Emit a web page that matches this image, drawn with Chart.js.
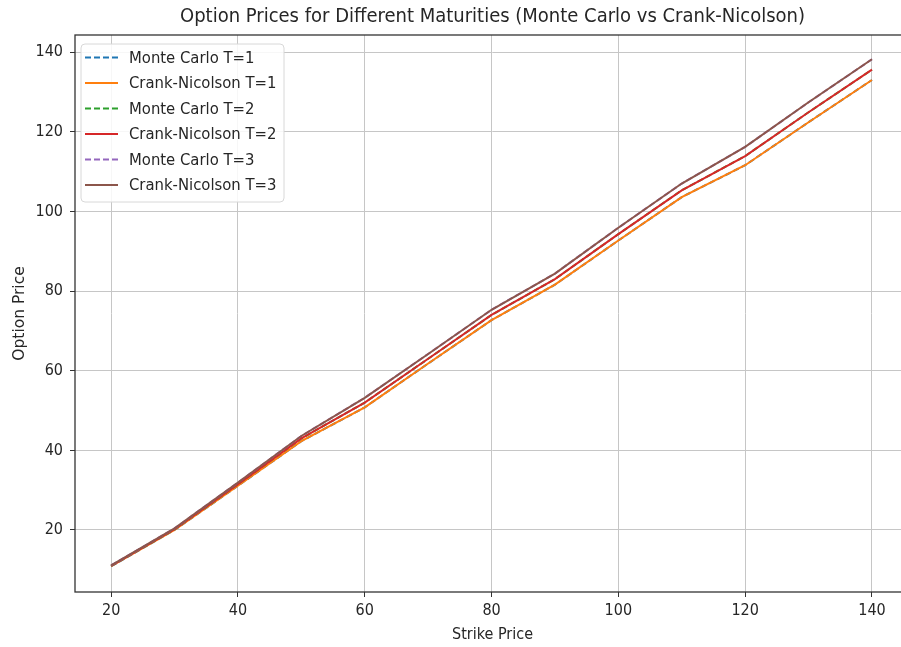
<!DOCTYPE html>
<html>
<head>
<meta charset="utf-8">
<script src="https://cdn.jsdelivr.net/npm/chart.js@4.4.1/dist/chart.umd.min.js"></script>
<style>
  html, body { margin: 0; padding: 0; background: #fff; overflow: hidden; }
  #wrap { width: 901px; height: 647px; overflow: hidden; }
</style>
</head>
<body>
<div id="wrap"><canvas id="optionChart" width="920" height="647"></canvas></div>
<script>
// strike prices on the x axis
const strikes = [20, 30, 40, 50, 60, 70, 80, 90, 100, 110, 120, 130, 140];

// option prices (MC lines sit under the CN lines)
const mcT1 = [10.9, 20.0, 31.1, 42.3, 50.8, 61.8, 72.7, 81.6, 92.7, 103.6, 111.6, 122.4, 133.0];
const cnT1 = [10.9, 20.0, 31.1, 42.3, 50.8, 61.8, 72.7, 81.6, 92.7, 103.6, 111.6, 122.4, 133.0];
const mcT2 = [11.0, 20.2, 31.5, 43.0, 52.0, 63.0, 74.0, 83.0, 94.3, 105.3, 113.9, 124.9, 135.6];
const cnT2 = [11.0, 20.2, 31.5, 43.0, 52.0, 63.0, 74.0, 83.0, 94.3, 105.3, 113.9, 124.9, 135.6];
const mcT3 = [11.1, 20.4, 31.9, 43.6, 53.2, 64.2, 75.3, 84.4, 95.9, 107.0, 116.2, 127.4, 138.2];
const cnT3 = [11.1, 20.4, 31.9, 43.6, 53.2, 64.2, 75.3, 84.4, 95.9, 107.0, 116.2, 127.4, 138.2];

const xTicks = [20, 40, 60, 80, 100, 120, 140];
const yTicks = [20, 40, 60, 80, 100, 120, 140];

const FONT = '"DejaVu Sans Condensed", "DejaVu Sans", sans-serif';
const FONT_V = '"DejaVu Sans", sans-serif';
const TEXT = '#262626';

function pts(values) {
  return strikes.map((k, i) => ({ x: k, y: values[i] }));
}

function series(label, values, color, dashed, idx) {
  return {
    label: label,
    data: pts(values),
    borderColor: color,
    backgroundColor: color,
    borderWidth: 2,
    borderDash: dashed ? [6, 3] : [],
    pointRadius: 0,
    tension: 0,
    fill: false,
    order: 6 - idx  // later series on top, like matplotlib
  };
}

// frame + matplotlib style legend box
const boxLegend = {
  id: 'boxLegend',
  afterDatasetsDraw(chart) {
    const ctx = chart.ctx;
    const a = chart.chartArea;
    ctx.save();
    ctx.strokeStyle = '#333';
    ctx.lineWidth = 1.3;
    ctx.strokeRect(a.left, a.top, a.right - a.left, a.bottom - a.top);

    const x0 = a.left + 6, y0 = a.top + 9, w = 203, h = 158, rowH = 25.5;
    ctx.beginPath();
    ctx.roundRect(x0, y0, w, h, 4);
    ctx.fillStyle = 'rgba(255,255,255,0.85)';
    ctx.fill();
    ctx.strokeStyle = '#d8d8d8';
    ctx.lineWidth = 1;
    ctx.stroke();

    chart.data.datasets.forEach((ds, i) => {
      const cy = y0 + 13.5 + i * rowH;
      ctx.beginPath();
      ctx.setLineDash(ds.borderDash);
      ctx.strokeStyle = ds.borderColor;
      ctx.lineWidth = 2;
      ctx.moveTo(x0 + 4, cy);
      ctx.lineTo(x0 + 37, cy);
      ctx.stroke();
      ctx.setLineDash([]);
      ctx.fillStyle = TEXT;
      ctx.font = '16.5px ' + FONT;
      ctx.textBaseline = 'middle';
      ctx.fillText(ds.label, x0 + 48, cy + 1);
    });
    ctx.restore();
  }
};

const ctx = document.getElementById('optionChart').getContext('2d');
new Chart(ctx, {
  type: 'line',
  data: {
    datasets: [
      series('Monte Carlo T=1', mcT1, '#1f77b4', true, 0),
      series('Crank-Nicolson T=1', cnT1, '#ff7f0e', false, 1),
      series('Monte Carlo T=2', mcT2, '#2ca02c', true, 2),
      series('Crank-Nicolson T=2', cnT2, '#d62728', false, 3),
      series('Monte Carlo T=3', mcT3, '#9467bd', true, 4),
      series('Crank-Nicolson T=3', cnT3, '#8c564b', false, 5)
    ]
  },
  options: {
    responsive: false,
    animation: false,
    devicePixelRatio: 1,
    layout: { padding: { left: 0, right: 10, top: 0, bottom: 0 } },
    plugins: {
      legend: { display: false },
      tooltip: { enabled: false },
      title: {
        display: true,
        fullSize: false,
        text: 'Option Prices for Different Maturities (Monte Carlo vs Crank-Nicolson)',
        color: TEXT,
        font: { family: FONT, size: 20, weight: 'normal' },
        padding: { top: 5, bottom: 6 }
      }
    },
    scales: {
      x: {
        type: 'linear',
        min: 14.3,
        max: 146,
        afterBuildTicks: (scale) => { scale.ticks = xTicks.map(v => ({ value: v })); },
        afterFit: (scale) => { scale.height = 55; },
        grid: { color: '#c6c6c6', lineWidth: 1, tickLength: 5, tickColor: '#333' },
        border: { display: false },
        ticks: { color: TEXT, font: { family: FONT, size: 16 }, padding: 4, maxRotation: 0 },
        title: {
          display: true, text: 'Strike Price', color: TEXT,
          font: { family: FONT, size: 16 }, padding: { top: 0, bottom: 3 }
        }
      },
      y: {
        type: 'linear',
        min: 4.43,
        max: 144.3,
        afterBuildTicks: (scale) => { scale.ticks = yTicks.map(v => ({ value: v })); },
        afterFit: (scale) => { scale.width = 75; },
        grid: { color: '#c6c6c6', lineWidth: 1, tickLength: 5, tickColor: '#333' },
        border: { display: false },
        ticks: { color: TEXT, font: { family: FONT, size: 16 }, padding: 7 },
        title: {
          display: true, text: 'Option Price', color: TEXT,
          font: { family: FONT_V, size: 15.5 }, padding: { top: 11, bottom: 0 }
        }
      }
    }
  },
  plugins: [boxLegend]
});
</script>
</body>
</html>
